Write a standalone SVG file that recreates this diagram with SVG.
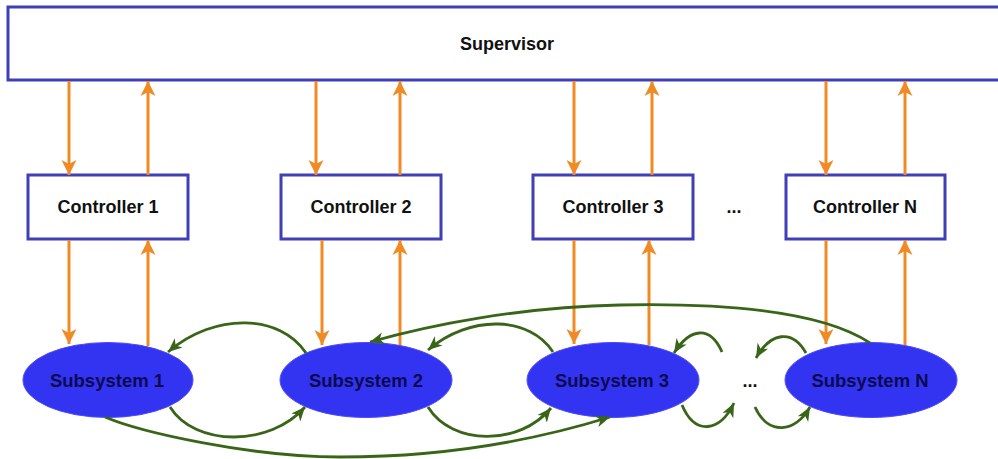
<svg xmlns="http://www.w3.org/2000/svg" width="998" height="459" viewBox="0 0 998 459">
  <style>
    .box { fill: #ffffff; stroke: #3f3fb8; stroke-width: 3; }
    .sub { fill: #3333f2; stroke: #4a4aff; stroke-width: 1; }
    .lbl { font-family: "Liberation Sans", Arial, sans-serif; font-weight: bold; font-size: 18px; fill: #111111; text-anchor: middle; }
    .sublbl { font-family: "Liberation Sans", Arial, sans-serif; font-weight: bold; font-size: 18.5px; fill: #0b0b50; text-anchor: middle; }
    .sig { fill: none; stroke: #f08a24; stroke-width: 3; }
    .link { fill: none; stroke: #386518; stroke-width: 2.8; }
  </style>
  <defs>
    <marker id="arrO" markerUnits="userSpaceOnUse" markerWidth="18" markerHeight="18" viewBox="0 0 18 18" refX="15" refY="9" orient="auto">
      <path d="M0,1.5 L15,9 L0,16.5 L4,9 Z" fill="#f08a24"/>
    </marker>
    <marker id="arrG" markerUnits="userSpaceOnUse" markerWidth="16" markerHeight="16" viewBox="0 0 16 16" refX="14" refY="8" orient="auto">
      <path d="M0,2 L14,8 L0,14 L4,8 Z" fill="#386518"/>
    </marker>
  </defs>

  <!-- top level -->
  <g id="supervisor">
    <rect class="box" x="8" y="7" width="1000" height="73"/>
    <text class="lbl" x="507" y="50">Supervisor</text>
  </g>

  <!-- controllers -->
  <g id="controller1">
    <rect class="box" x="28" y="175" width="160" height="64"/>
    <text class="lbl" x="108" y="213">Controller 1</text>
  </g>
  <g id="controller2">
    <rect class="box" x="281" y="175" width="160" height="64"/>
    <text class="lbl" x="361" y="213">Controller 2</text>
  </g>
  <g id="controller3">
    <rect class="box" x="533" y="175" width="160" height="64"/>
    <text class="lbl" x="613" y="213">Controller 3</text>
  </g>
  <g id="controller-dots">
    <text class="lbl" x="734" y="213">...</text>
  </g>
  <g id="controllerN">
    <rect class="box" x="786" y="175" width="159" height="64"/>
    <text class="lbl" x="865" y="213">Controller N</text>
  </g>

  <!-- subsystems -->
  <g id="subsystem1">
    <ellipse class="sub" cx="108" cy="380" rx="85" ry="37.5"/>
    <text class="sublbl" x="107" y="387">Subsystem 1</text>
  </g>
  <g id="subsystem2">
    <ellipse class="sub" cx="366" cy="380" rx="86" ry="37.5"/>
    <text class="sublbl" x="366" y="387">Subsystem 2</text>
  </g>
  <g id="subsystem3">
    <ellipse class="sub" cx="613" cy="380" rx="86" ry="37.5"/>
    <text class="sublbl" x="612" y="387">Subsystem 3</text>
  </g>
  <g id="subsystem-dots">
    <text class="lbl" x="750" y="387">...</text>
  </g>
  <g id="subsystemN">
    <ellipse class="sub" cx="871" cy="380" rx="86" ry="37.5"/>
    <text class="sublbl" x="870" y="387">Subsystem N</text>
  </g>

  <g id="connectors">
    <!-- supervisor <-> controllers -->
    <path class="sig" d="M69,81 L69,175" marker-end="url(#arrO)"/>
    <path class="sig" d="M148,175 L148,81" marker-end="url(#arrO)"/>
    <path class="sig" d="M316,81 L316,175" marker-end="url(#arrO)"/>
    <path class="sig" d="M400,175 L400,81" marker-end="url(#arrO)"/>
    <path class="sig" d="M574,81 L574,175" marker-end="url(#arrO)"/>
    <path class="sig" d="M652,175 L652,81" marker-end="url(#arrO)"/>
    <path class="sig" d="M826,81 L826,175" marker-end="url(#arrO)"/>
    <path class="sig" d="M905,175 L905,81" marker-end="url(#arrO)"/>

    <!-- controllers <-> subsystems -->
    <path class="sig" d="M69,240 L69,344" marker-end="url(#arrO)"/>
    <path class="sig" d="M148,346 L148,240" marker-end="url(#arrO)"/>
    <path class="sig" d="M322,240 L322,345" marker-end="url(#arrO)"/>
    <path class="sig" d="M400,345 L400,240" marker-end="url(#arrO)"/>
    <path class="sig" d="M574,240 L574,344" marker-end="url(#arrO)"/>
    <path class="sig" d="M649,345 L649,240" marker-end="url(#arrO)"/>
    <path class="sig" d="M826,240 L826,344" marker-end="url(#arrO)"/>
    <path class="sig" d="M905,345 L905,240" marker-end="url(#arrO)"/>

    <!-- subsystem couplings -->
    <path class="link" d="M306,353 C280,314 215,312 168,352" marker-end="url(#arrG)"/>
    <path class="link" d="M170,407 C195,447 270,447 305,407" marker-end="url(#arrG)"/>
    <path class="link" d="M105,417 C140,432 250,457 340,457 C430,457 520,445 610,417" marker-end="url(#arrG)"/>
    <path class="link" d="M553,352 C530,316 470,314 428,350" marker-end="url(#arrG)"/>
    <path class="link" d="M428,407 C452,446 520,446 551,408" marker-end="url(#arrG)"/>
    <path class="link" d="M870,343 C820,310 720,303 620,305 C520,307 430,325 370,342" marker-end="url(#arrG)"/>
    <path class="link" d="M722,352 C710,325 690,328 674,353" marker-end="url(#arrG)"/>
    <path class="link" d="M806,353 C792,328 770,333 756,358" marker-end="url(#arrG)"/>
    <path class="link" d="M682,405 C695,436 720,432 734,403" marker-end="url(#arrG)"/>
    <path class="link" d="M755,407 C768,436 795,433 810,407" marker-end="url(#arrG)"/>
  </g>
</svg>
